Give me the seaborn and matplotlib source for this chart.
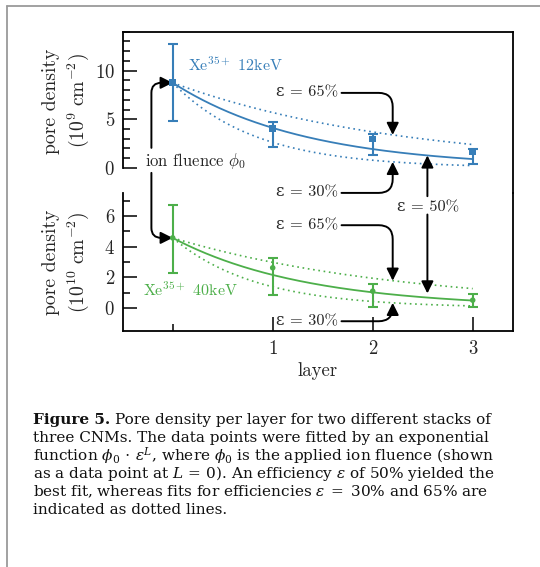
import numpy as np
import pandas as pd
import matplotlib
matplotlib.use("Agg")
import matplotlib.pyplot as plt
import seaborn as sns
from matplotlib.ticker import FixedLocator, NullLocator, NullFormatter
from matplotlib.lines import Line2D

# ---------------- data ----------------
layers = [0, 1, 2, 3]
layer_tick_labels = ["1", "2", "3"]
layer_ticks = [1, 2, 3]

# Xe35+ 12 keV, pore density in 1e9 cm^-2
blue_density = [8.75, 4.07, 2.98, 1.70]
blue_err_low = [3.96, 1.91, 1.69, 1.29]
blue_err_high = [4.03, 0.62, 0.51, 0.28]

# Xe35+ 40 keV, pore density in 1e10 cm^-2
green_density = [4.58, 2.62, 1.09, 0.50]
green_err_low = [2.29, 1.81, 1.05, 0.46]
green_err_high = [2.14, 0.61, 0.50, 0.43]

eff_best = 0.47   # best fit (labelled 50 %)
eff_low = 0.30
eff_high = 0.65

blue_label = r"$\mathrm{Xe}^{35+}$ 12keV"
green_label = r"$\mathrm{Xe}^{35+}$ 40keV"
upper_ylabel = "pore density\n" + r"$(10^{9}\ \mathrm{cm}^{-2})$"
lower_ylabel = "pore density\n" + r"$(10^{10}\ \mathrm{cm}^{-2})$"

caption_head = "Figure 5."
caption_lines = [
    "Pore density per layer for two different stacks of",
    "three CNMs. The data points were fitted by an exponential",
    r"function $\phi_0\,\cdot\,\varepsilon^L$, where $\phi_0$ is the applied ion fluence (shown",
    r"as a data point at $L\,=\,0$). An efficiency $\varepsilon$ of 50% yielded the",
    r"best fit, whereas fits for efficiencies $\varepsilon\;=\;$30% and 65% are",
    "indicated as dotted lines.",
]

BLUE = "#377eb8"
GREEN = "#4daf4a"

# ---------------- style ----------------
sns.set_style("ticks")
plt.rcParams["font.family"] = ["cmr10", "DejaVu Serif"]
plt.rcParams["mathtext.fontset"] = "cm"
plt.rcParams["axes.formatter.use_mathtext"] = True
plt.rcParams["axes.unicode_minus"] = False

W, H = 540, 567
fig = plt.figure(figsize=(W / 100, H / 100), dpi=100)


def rect(l, t, r, b):
    return [l / W, 1 - b / H, (r - l) / W, (b - t) / H]


ax1 = fig.add_axes(rect(122.7, 31.7, 512.7, 193.3))
ax2 = fig.add_axes(rect(122.7, 193.3, 512.7, 330.7))
for ax in (ax1, ax2):
    ax.set_facecolor("none")
    ax.set_xlim(-0.5, 3.4)
ax1.set_ylim(-2.61, 14)
ax2.set_ylim(-1.5, 7.5)

# ---------------- fits ----------------
L_fine = np.linspace(0, 3, 200)


def fit(phi0, eff, L):
    return phi0 * np.power(eff, L)


fits = pd.DataFrame({
    "L": L_fine,
    "b_best": fit(blue_density[0], eff_best, L_fine),
    "b_low": fit(blue_density[0], eff_low, L_fine),
    "b_high": fit(blue_density[0], eff_high, L_fine),
    "g_best": fit(green_density[0], eff_best, L_fine),
    "g_low": fit(green_density[0], eff_low, L_fine),
    "g_high": fit(green_density[0], eff_high, L_fine),
})

dot = (0, (1.0, 2.2))
for ax, c, pre in ((ax1, BLUE, "b"), (ax2, GREEN, "g")):
    sns.lineplot(data=fits, x="L", y=pre + "_best", color=c, lw=1.3, ax=ax)
    sns.lineplot(data=fits, x="L", y=pre + "_low", color=c, lw=1.2, linestyle=dot, ax=ax)
    sns.lineplot(data=fits, x="L", y=pre + "_high", color=c, lw=1.2, linestyle=dot, ax=ax)

# ---------------- data points ----------------
ax1.errorbar(layers, blue_density, yerr=[blue_err_low, blue_err_high], fmt="none",
             ecolor=BLUE, elinewidth=1.5, capsize=3.6, capthick=1.5, zorder=3)
sns.scatterplot(x=layers, y=blue_density, marker="s", s=24, color=BLUE,
                edgecolor="none", ax=ax1, zorder=4)
ax2.errorbar(layers, green_density, yerr=[green_err_low, green_err_high], fmt="none",
             ecolor=GREEN, elinewidth=1.5, capsize=3.6, capthick=1.5, zorder=3)
sns.scatterplot(x=layers, y=green_density, marker="o", s=16, color=GREEN,
                edgecolor="none", ax=ax2, zorder=4)

# ---------------- axes cosmetics ----------------
for ax in (ax1, ax2):
    ax.set_xlabel("")
    ax.set_ylabel("")
    for s in ax.spines.values():
        s.set_linewidth(1.3)
        s.set_color("black")
    ax.tick_params(which="both", direction="in", width=1.1, color="black",
                   labelsize=13.5, pad=5.5, right=False, top=False)
    ax.tick_params(which="major", length=10)
    ax.tick_params(which="minor", length=5)

ax1.spines["bottom"].set_visible(False)
ax1.spines["left"].set_bounds(0, 14)
ax1.yaxis.set_major_locator(FixedLocator([0, 5, 10]))
ax1.yaxis.set_minor_locator(FixedLocator(list(range(1, 15))))
ax1.xaxis.set_major_locator(NullLocator())
ax1.xaxis.set_minor_locator(NullLocator())
ax1.tick_params(axis="x", bottom=False, labelbottom=False)

ax2.spines["top"].set_visible(False)
ax2.yaxis.set_major_locator(FixedLocator([0, 2, 4, 6]))
ax2.yaxis.set_minor_locator(FixedLocator([1, 3, 5, 7]))
ax2.xaxis.set_major_locator(FixedLocator(layer_ticks))
ax2.set_xticklabels(layer_tick_labels)
ax2.xaxis.set_minor_locator(FixedLocator([0]))
ax2.xaxis.set_minor_formatter(NullFormatter())
ax2.tick_params(axis="x", pad=6.5)
ax2.set_xlabel("layer", fontsize=13.5, labelpad=3)

ylab_kw = dict(rotation=90, ha="center", va="center", fontsize=14.2, linespacing=1.3,
               multialignment="center")
ax1.text(-0.143, 0.571, upper_ylabel, transform=ax1.transAxes, **ylab_kw)
ax2.text(-0.143, 0.496, lower_ylabel, transform=ax2.transAxes, **ylab_kw)

# ---------------- labels & arrows ----------------
ax1.text(0.153, 10.03, blue_label, color=BLUE, fontsize=11.5, ha="left", va="baseline")
ax2.text(-0.297, 0.81, green_label, color=GREEN, fontsize=11.5, ha="left", va="baseline")
ax1.text(-0.28, 0.16, r"ion fluence $\phi_0$", fontsize=12, ha="left", va="baseline")

arrow_kw = dict(arrowstyle="-|>,head_length=0.72,head_width=0.36", mutation_scale=10,
                color="black", lw=1.4, shrinkA=0, shrinkB=0)

# ion fluence -> L=0 points
ax1.annotate("", xy=(0, blue_density[0]), xytext=(-0.213, 2.06),
             arrowprops=dict(connectionstyle="angle,angleA=90,angleB=0,rad=10", **arrow_kw),
             annotation_clip=False)
ax2.annotate("", xy=(0, green_density[0]), xytext=(-0.213, -0.51), textcoords=ax1.transData,
             arrowprops=dict(connectionstyle="angle,angleA=-90,angleB=0,rad=10", **arrow_kw),
             annotation_clip=False)

x_arr = 2.2
lbl_kw = dict(fontsize=11.8, ha="center", va="center", annotation_clip=False)
conn = "angle,angleA=0,angleB=90,rad=14"
ax1.annotate("ε = 65%", xy=(x_arr, fit(blue_density[0], eff_high, x_arr)), xytext=(1.345, 7.71),
             arrowprops=dict(connectionstyle=conn, **arrow_kw), **lbl_kw)
ax1.annotate("ε = 30%", xy=(x_arr, fit(blue_density[0], eff_low, x_arr)), xytext=(1.345, -2.57),
             arrowprops=dict(connectionstyle=conn, **arrow_kw), **lbl_kw)
ax2.annotate("ε = 65%", xy=(x_arr, fit(green_density[0], eff_high, x_arr)), xytext=(1.345, 5.41),
             arrowprops=dict(connectionstyle=conn, **arrow_kw), **lbl_kw)
ax2.annotate("ε = 30%", xy=(x_arr, fit(green_density[0], eff_low, x_arr)), xytext=(1.345, -0.88),
             arrowprops=dict(connectionstyle=conn, **arrow_kw), **lbl_kw)

x50 = 2.547
ax2.text(2.55, 6.55, "ε = 50%", fontsize=11.8, ha="center", va="center")
ax1.annotate("", xy=(x50, fit(blue_density[0], eff_best, x50)), xytext=(x50, 7.31),
             textcoords=ax2.transData, arrowprops=dict(arrow_kw), annotation_clip=False)
ax2.annotate("", xy=(x50, fit(green_density[0], eff_best, x50)), xytext=(x50, 6.11),
             arrowprops=dict(arrow_kw, shrinkB=3), annotation_clip=False)

# ---------------- caption ----------------
renderer = fig.canvas.get_renderer()
cap_font = dict(family="DejaVu Serif", math_fontfamily="dejavuserif", color="#111111")
cap_size = 11.0

x0 = 33.3 / W
base0 = 424.0
step = 18.1
bold = fig.text(x0, 1 - base0 / H, caption_head, fontsize=cap_size, fontweight="bold",
                va="baseline", ha="left", **cap_font)
bw = bold.get_window_extent(renderer).width
fig.text(x0 + (bw + 0.3 * cap_size * 100 / 72) / W, 1 - base0 / H, caption_lines[0],
         fontsize=cap_size, va="baseline", ha="left", **cap_font)
for i, line in enumerate(caption_lines[1:], start=1):
    fig.text(x0, 1 - (base0 + i * step) / H, line, fontsize=cap_size, va="baseline",
             ha="left", **cap_font)

# ---------------- outer frame ----------------
fcol = "#9a9a9a"
fig.add_artist(Line2D([7 / W, 7 / W], [0, 1 - 6 / H], transform=fig.transFigure, color=fcol, lw=1.3))
fig.add_artist(Line2D([7 / W, 1], [1 - 6 / H, 1 - 6 / H], transform=fig.transFigure, color=fcol, lw=1.3))

fig.savefig("out.png", dpi=100, facecolor="white")
